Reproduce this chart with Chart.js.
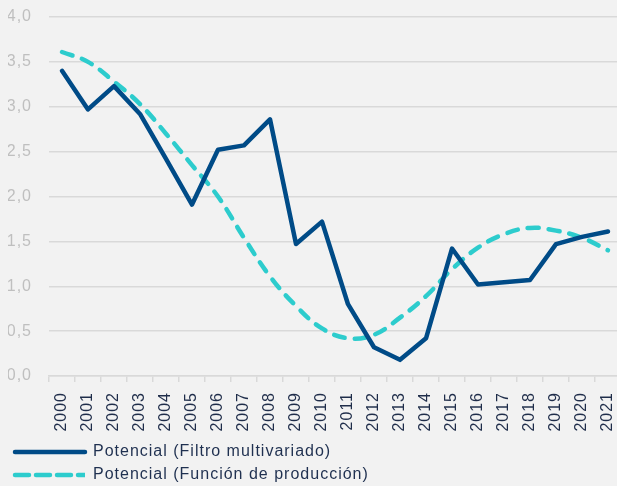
<!DOCTYPE html>
<html>
<head>
<meta charset="utf-8">
<script src="https://cdn.jsdelivr.net/npm/chart.js@4/dist/chart.umd.min.js"></script>
<style>
  html, body { margin: 0; padding: 0; background: #F2F2F2; overflow: hidden; width: 617px; height: 486px; }
  #wrap { width: 621px; height: 493px; }
</style>
</head>
<body>
<div id="wrap"><canvas id="c" width="621" height="493"></canvas></div>
<script>
const years = ['2000','2001','2002','2003','2004','2005','2006','2007','2008','2009','2010','2011','2012','2013','2014','2015','2016','2017','2018','2019','2020','2021'];
const filtroMultivariado = [3.40, 2.97, 3.23, 2.92, 2.42, 1.91, 2.52, 2.57, 2.86, 1.47, 1.72, 0.80, 0.32, 0.18, 0.42, 1.42, 1.02, 1.045, 1.07, 1.47, 1.55, 1.61];
const funcionProduccion = [3.61, 3.50, 3.28, 3.03, 2.70, 2.35, 2.00, 1.54, 1.11, 0.78, 0.53, 0.42, 0.46, 0.65, 0.89, 1.19, 1.43, 1.58, 1.65, 1.62, 1.54, 1.40];
const seriesNames = ['Potencial (Filtro multivariado)', 'Potencial (Función de producción)'];
const yTicks = { min: 0, max: 4, step: 0.5 };

const bgPlugin = {
  id: 'bg',
  beforeUpdate(chart) { chart.ctx.letterSpacing = '1px'; },
  beforeDraw(chart) {
    const ctx = chart.ctx;
    ctx.letterSpacing = '1px';
    ctx.save();
    ctx.fillStyle = '#F2F2F2';
    ctx.fillRect(0, 0, chart.width, chart.height);
    ctx.restore();
  }
};

const canvas = document.getElementById('c');

new Chart(canvas, {
  type: 'line',
  data: {
    labels: years,
    datasets: [
      {
        label: seriesNames[0],
        data: filtroMultivariado,
        borderColor: '#004B87',
        backgroundColor: '#004B87',
        borderWidth: 4.5,
        pointRadius: 0,
        tension: 0,
        borderCapStyle: 'round',
        borderJoinStyle: 'round',
        fill: false
      },
      {
        label: seriesNames[1],
        data: funcionProduccion,
        borderColor: '#2DCCCD',
        backgroundColor: '#2DCCCD',
        borderWidth: 4.5,
        borderDash: [11, 10],
        borderCapStyle: 'round',
        pointRadius: 0,
        tension: 0.4,
        fill: false
      }
    ]
  },
  options: {
    responsive: false,
    animation: false,
    layout: { padding: { left: 8, right: 0, top: 17, bottom: 0 } },
    plugins: {
      tooltip: { enabled: false },
      legend: {
        position: 'bottom',
        align: 'start',
        labels: {
          boxWidth: 70,
          boxHeight: 0,
          padding: 7,
          color: '#1F3050',
          font: { family: 'Liberation Sans, Arial, sans-serif', size: 16 }
        }
      }
    },
    scales: {
      x: {
        offset: true,
        afterFit(scale) { scale.height = 61; scale.paddingLeft = 0; scale.paddingRight = 0; },
        grid: { display: true, drawOnChartArea: false, offset: true, color: '#D9D9D9', lineWidth: 1.5, tickLength: 6 },
        border: { display: true, color: '#D9D9D9', width: 1.5 },
        ticks: {
          autoSkip: false,
          maxRotation: 90,
          minRotation: 90,
          padding: 10,
          color: '#1F2D4A',
          font: { family: 'Liberation Sans, Arial, sans-serif', size: 16 }
        }
      },
      y: {
        min: yTicks.min,
        max: yTicks.max,
        afterFit(scale) { scale.width = 41; scale.paddingTop = 0; scale.paddingBottom = 0; },
        grid: { color: '#D9D9D9', lineWidth: 1.5, drawTicks: false },
        border: { display: false },
        ticks: {
          stepSize: yTicks.step,
          padding: 17,
          color: '#BFBFBF',
          font: { family: 'Liberation Sans, Arial, sans-serif', size: 16 },
          callback: (v) => Number(v).toFixed(1).replace('.', ',')
        }
      }
    }
  },
  plugins: [bgPlugin]
});
</script>
</body>
</html>
